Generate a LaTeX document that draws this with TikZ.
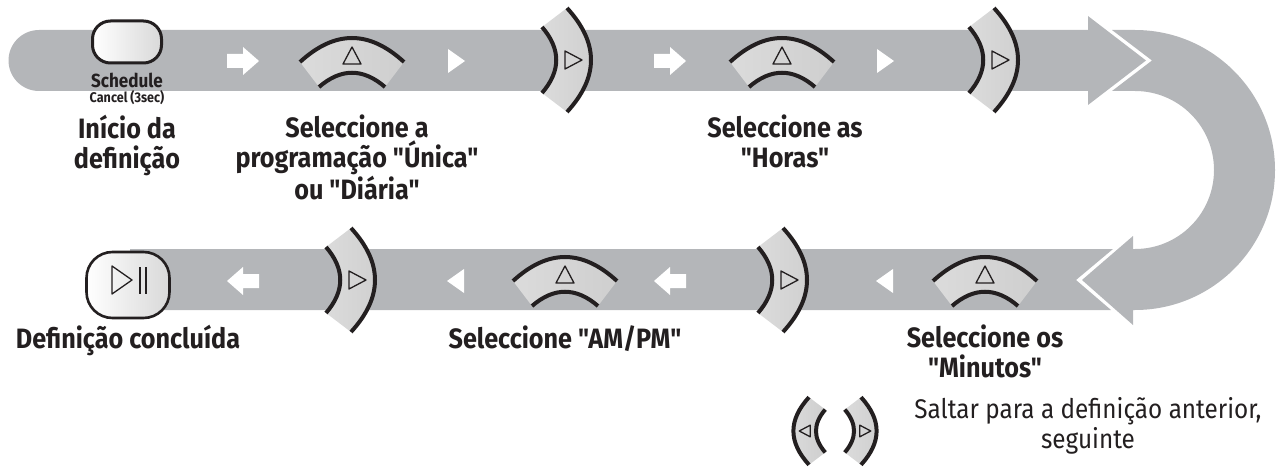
\documentclass[tikz,border=0pt]{standalone}
\usepackage{fontspec}
\setmainfont{Fira Sans}[FakeStretch=0.9,Ligatures=TeXOff]
\usepackage{tikz}
\usetikzlibrary{positioning}
\definecolor{bandgray}{RGB}{180,182,185}
\definecolor{ink}{RGB}{35,31,32}

\begin{document}
\begin{tikzpicture}
      [   x=1pt,y=-1pt,
          band/.style={fill=bandgray},
          keyarc/.style={draw=ink,line width=4pt},
          keysym/.style={draw=ink,line width=1.3pt,line join=round},
          lbl/.style={font=\bfseries\fontsize{28}{30}\selectfont,text=ink,align=center,anchor=north,inner sep=0pt},
          btn/.style={draw=ink,rounded corners=#1,left color=white,right color=gray!30},
          navkey/.pic={
              \shade[left color=gray!28,middle color=white,right color=gray!38]
                  (-52,0) .. controls (-17,-32) and (17,-32) .. (52,0) -- (33,25)
                  .. controls (11,6) and (-11,6) .. (-33,25) -- cycle;
              \draw[keyarc] (-52,0) .. controls (-17,-32) and (17,-32) .. (52,0);
              \draw[keyarc] (-33,25) .. controls (-11,6) and (11,6) .. (33,25);
              \draw[keysym] (0,-15) -- (9,2) -- (-9,2) -- cycle;
          },
          fwdmark/.pic={\fill[white] (-16,-7) -- (0,-7) -- (0,-14) -- (16,0) -- (0,14) -- (0,7) -- (-16,7) -- cycle;},
          tipmark/.pic={\fill[white] (-8,-12) -- (9,0) -- (-8,12) -- cycle;},
      ]
          \useasboundingbox (0,0) rectangle (1278,476);
          % bands
          \fill[band] (39,30) -- (1088,30) -- (1088,16) -- (1146,60.5) -- (1088,105) -- (1088,91) -- (39,91)
              arc[start angle=90,end angle=270,radius=30.5] -- cycle;
          \fill[band] (1112,30) -- (1135,30) arc[start angle=-90,end angle=90,radius=140] -- (1133,310)
              -- (1133,325) -- (1082,280) -- (1133,236) -- (1133,249) -- (1135,249)
              arc[start angle=90,end angle=-90,radius=79] -- (1112,91) -- (1152,60.5) -- cycle;
          \fill[band] (130,249) -- (1113,249) -- (1076,280) -- (1111,310) -- (130,310) -- cycle;
          % marks on the bands
          \foreach \x in {243,670}
          {   \pic at (\x,61) {fwdmark};
              \pic[xscale=-1] at (\x,281) {fwdmark};
          }
          \foreach \x in {456,885}
          {   \pic at (\x,61) {tipmark};
              \pic[xscale=-1] at (\x,281) {tipmark};
          }
          % keys
          \pic (upA) at (352,62) {navkey};
          \pic (upB) at (782,62) {navkey};
          \pic (upC) at (565,281) {navkey};
          \pic (upD) at (985,281) {navkey};
          \pic[rotate=-90] (nextA) at (567,60) {navkey};
          \pic[rotate=-90] (nextB) at (994,60) {navkey};
          \pic[rotate=-90] (nextC) at (351,280) {navkey};
          \pic[rotate=-90] (nextD) at (783,280) {navkey};
          \pic[rotate=90,scale=0.65] (prevS) at (809,431) {navkey};
          \pic[rotate=-90,scale=0.65] (nextS) at (861,431) {navkey};
          % buttons
          \node[btn=18pt,line width=3pt,minimum width=69pt,minimum height=42pt] (sched) at (127,42) {};
          \node[font=\bfseries\fontsize{19}{19}\selectfont,text=ink,inner sep=0pt] (schedtxt) at (127,80) {Schedule};
          \node[font=\bfseries\fontsize{14}{14}\selectfont,text=ink,inner sep=0pt,below=3pt of schedtxt] (canceltxt) {Cancel (3sec)};
          \node[btn=26pt,line width=2.6pt,minimum width=83pt,minimum height=66pt] (play) at (128,285) {};
          \draw[keysym] (112,266) -- (132,280) -- (112,294) -- cycle;
          \draw[keysym] (140,267) -- (140,294) (146,267) -- (146,294);
          % labels
          \node[lbl] (start) at (127,115) {Início da\\definição};
          \node[lbl] (mode) at (357,115) {Seleccione a\\programação "Única"\\ou "Diária"};
          \node[lbl] (hour) at (785,115) {Seleccione as\\"Horas"};
          \node[lbl] (done) at (128,325) {Definição concluída};
          \node[lbl] (ampm) at (565,325) {Seleccione "AM/PM"};
          \node[lbl] (minute) at (985,325) {Seleccione os\\"Minutos"};
          \node[lbl,font=\fontsize{27}{30}\selectfont] (skip) at (1088,397) {Saltar para a definição anterior,\\seguinte};
    \end{tikzpicture}
\end{document}
